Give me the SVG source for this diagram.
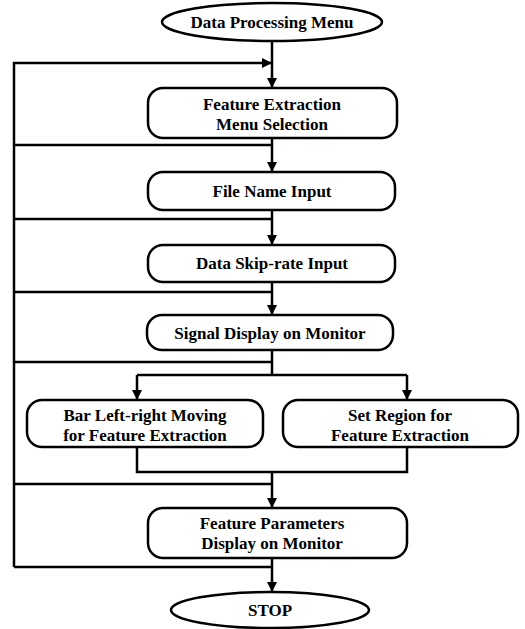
<svg xmlns="http://www.w3.org/2000/svg" width="525" height="629" viewBox="0 0 525 629">
<style>
.n{fill:#fff;stroke:#000;stroke-width:2.5}
.c{fill:none;stroke:#000;stroke-width:2.5}
text{font-family:"Liberation Serif","Times New Roman",serif;font-size:17px;font-weight:bold;text-anchor:middle;dominant-baseline:central;fill:#000}
</style>
<defs>
<marker id="a" viewBox="0 0 10 10" refX="10" refY="5" markerWidth="10" markerHeight="10" markerUnits="userSpaceOnUse" orient="auto">
<path d="M0,0 L10,5 L0,10 Z" fill="#000"/>
</marker>
</defs>
<rect width="525" height="629" fill="#fff"/>
<g id="connectors">
<path class="c" d="M272,41 V88" marker-end="url(#a)"/>
<path class="c" d="M14,567 V63 H272" marker-end="url(#a)"/>
<path class="c" d="M272,138 V172" marker-end="url(#a)"/>
<path class="c" d="M14,145 H272"/>
<path class="c" d="M272,210 V245" marker-end="url(#a)"/>
<path class="c" d="M14,219 H272"/>
<path class="c" d="M272,282 V315" marker-end="url(#a)"/>
<path class="c" d="M14,292 H272"/>
<path class="c" d="M272,350 V375"/>
<path class="c" d="M14,362 H272"/>
<path class="c" d="M137,375 H407"/>
<path class="c" d="M407,375 V400" marker-end="url(#a)"/>
<path class="c" d="M137,375 V400" marker-end="url(#a)"/>
<path class="c" d="M137,447 V472 H407 V447"/>
<path class="c" d="M272,472 V508" marker-end="url(#a)"/>
<path class="c" d="M14,484 H272"/>
<path class="c" d="M272,558 V592" marker-end="url(#a)"/>
<path class="c" d="M14,567 H272"/>
</g>
<g id="start">
<ellipse class="n" cx="272" cy="22" rx="110" ry="19"/>
<text x="272" y="22">Data Processing Menu</text>
</g>
<g id="menu">
<rect class="n" x="148" y="88" width="249" height="50" rx="15"/>
<text x="272" y="104">Feature Extraction</text>
<text x="272" y="124">Menu Selection</text>
</g>
<g id="file">
<rect class="n" x="148" y="172" width="247" height="38" rx="15"/>
<text x="272" y="191">File Name Input</text>
</g>
<g id="skip">
<rect class="n" x="148" y="245" width="247" height="37" rx="15"/>
<text x="272" y="263">Data Skip-rate Input</text>
</g>
<g id="signal">
<rect class="n" x="147" y="315" width="246" height="35" rx="15"/>
<text x="270" y="333">Signal Display on Monitor</text>
</g>
<g id="bar">
<rect class="n" x="27" y="400" width="236" height="47" rx="15"/>
<text x="145" y="415">Bar Left-right Moving</text>
<text x="145" y="435">for Feature Extraction</text>
</g>
<g id="region">
<rect class="n" x="283" y="400" width="235" height="47" rx="15"/>
<text x="400" y="415">Set Region for</text>
<text x="400" y="435">Feature Extraction</text>
</g>
<g id="params">
<rect class="n" x="148" y="508" width="259" height="50" rx="15"/>
<text x="272" y="523">Feature Parameters</text>
<text x="272" y="543">Display on Monitor</text>
</g>
<g id="stop">
<ellipse class="n" cx="270" cy="610" rx="99" ry="18"/>
<text x="270" y="610">STOP</text>
</g>
</svg>
